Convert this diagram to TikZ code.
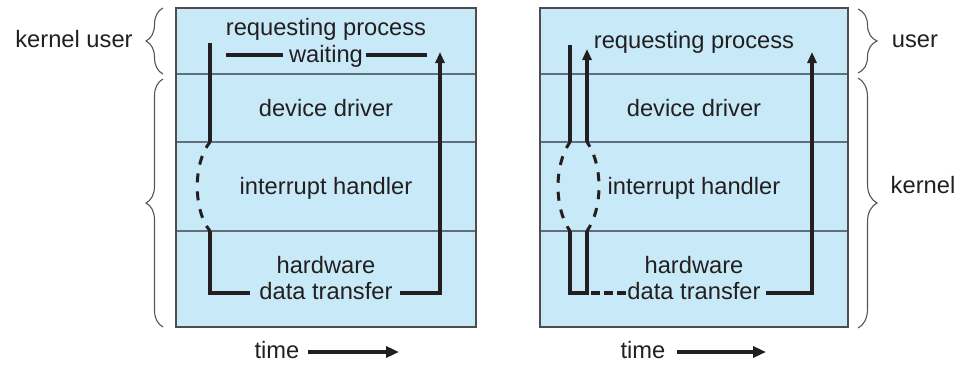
\documentclass[tikz,border=0pt]{standalone}
\usepackage{fontspec}
\setmainfont{Liberation Sans}
\usetikzlibrary{arrows.meta,decorations.pathreplacing}
\definecolor{layerfill}{RGB}{200,233,248}
\definecolor{ink}{RGB}{35,31,32}
\definecolor{layerrule}{RGB}{95,112,122}
\definecolor{bracegray}{RGB}{85,85,85}
\begin{document}
\begin{tikzpicture}[x=1pt,y=-1pt,
  txt/.style={font=\fontsize{23.7}{28}\selectfont, text=ink, anchor=base, inner sep=0pt},
  flow/.style={line width=3.4pt, draw=ink},
  flowdash/.style={draw=ink, line width=3pt, dash pattern=on 9pt off 9pt, dash phase=2pt},
  flowtip/.style={-{Triangle[length=11pt,width=9pt]}},
  layerbox/.style={draw=ink!80, line width=1.5pt},
  layerline/.style={draw=layerrule, line width=1.1pt},
  grpbrace/.style={draw=bracegray, line width=1.1pt, decorate, decoration={brace,amplitude=#1}},
  timearrow/.style={draw=ink, line width=3.6pt, -{Triangle[length=13pt,width=11pt]}}]
\useasboundingbox (0,0) rectangle (960,364);

% ---------- left panel: synchronous I/O ----------
\fill[layerfill] (176,8) rectangle (476,327);
\draw[layerline] (176,74) -- (476,74);
\draw[layerline] (176,142) -- (476,142);
\draw[layerline] (176,231) -- (476,231);
\draw[layerbox] (176,8) rectangle (476,327);

\node[txt] (lreq) at (326,35) {requesting process};
\node[txt] (lwait) at (326,62) {waiting};
\node[txt] (ldev) at (326,116) {device driver};
\node[txt] (lint) at (326,194) {interrupt handler};
\node[txt] (lhw) at (326,273) {hardware};
\node[txt] (ldata) at (326,299) {data transfer};

\coordinate (lw1) at (226,55); \coordinate (lw2) at (283,55);
\coordinate (lw3) at (366,55); \coordinate (lw4) at (427,55);
\draw[flow] (lw1) -- (lw2);
\draw[flow] (lw3) -- (lw4);

\coordinate (ltop) at (210,43);
\coordinate (ldd) at (210,142);
\coordinate (lhi) at (210,231);
\coordinate (lcorner) at (210,293);
\coordinate (ldl) at (250,293);
\coordinate (ldr) at (400,293);
\coordinate (lrc) at (440,293);
\coordinate (lend) at (440,52);
\draw[flow] (ltop) -- (ldd);
\draw[flowdash] (ldd) .. controls (193,163) and (193,210) .. (lhi);
\draw[flow] (lhi) -- (lcorner) -- (ldl);
\draw[flow,flowtip] (ldr) -- (lrc) -- (lend);

\node[txt] (kuser) at (74,47) {kernel user};
\draw[grpbrace=17pt] (163,74) -- (163,8);
\draw[grpbrace=17pt] (163,327) -- (163,79);

\node[txt] (ltime) at (277,358) {time};
\coordinate (lta) at (308,352); \coordinate (ltb) at (399,352);
\draw[timearrow] (lta) -- (ltb);

% ---------- right panel: asynchronous I/O ----------
\fill[layerfill] (540,8) rectangle (848,327);
\draw[layerline] (540,74) -- (848,74);
\draw[layerline] (540,142) -- (848,142);
\draw[layerline] (540,231) -- (848,231);
\draw[layerbox] (540,8) rectangle (848,327);

\node[txt] (rreq) at (694,48) {requesting process};
\node[txt] (rdev) at (694,116) {device driver};
\node[txt] (rint) at (694,194) {interrupt handler};
\node[txt] (rhw) at (694,273) {hardware};
\node[txt] (rdata) at (694,299) {data transfer};

\coordinate (ratop) at (570,45);
\coordinate (radd) at (570,142);
\coordinate (rahi) at (570,231);
\coordinate (racorner) at (570,293);
\coordinate (rbcorner) at (587,293);
\coordinate (rbhi) at (587,231);
\coordinate (rbdd) at (587,142);
\coordinate (rbtop) at (587,49);
\coordinate (rdl) at (626,293);
\coordinate (rdr) at (766,293);
\coordinate (rrc) at (812,293);
\coordinate (rend) at (812,52);

\draw[flow] (ratop) -- (radd);
\draw[flowdash] (radd) .. controls (554,165) and (554,208) .. (rahi);
\draw[flow] (rahi) -- (racorner) -- (rbcorner) -- (rbhi);
\draw[flowdash] (rbhi) .. controls (603,208) and (603,165) .. (rbdd);
\draw[flow,flowtip] (rbdd) -- (rbtop);
\draw[draw=ink, line width=3.2pt, dash pattern=on 9pt off 4pt, dash phase=9pt] (rbcorner) -- (rdl);
\draw[flow,flowtip] (rdr) -- (rrc) -- (rend);

\draw[grpbrace=19pt] (858,9) -- (858,73);
\draw[grpbrace=19pt] (858,78) -- (858,328);
\node[txt] (ruser) at (915,47) {user};
\node[txt] (rkernel) at (923,193) {kernel};

\node[txt] (rtime) at (643,358) {time};
\coordinate (rta) at (677,352); \coordinate (rtb) at (766,352);
\draw[timearrow] (rta) -- (rtb);
\end{tikzpicture}
\end{document}
